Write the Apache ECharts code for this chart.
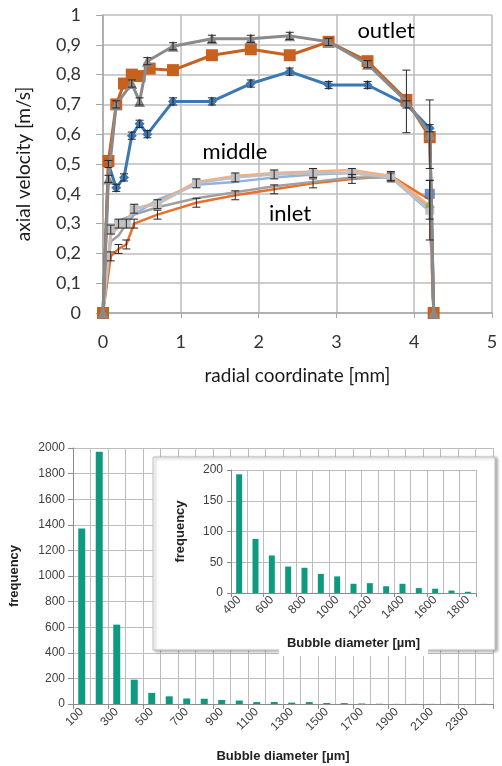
<!DOCTYPE html>
<html>
<head>
<meta charset="utf-8">
<script src="https://cdn.jsdelivr.net/npm/echarts@6/dist/echarts.min.js"></script>
<style>
html,body{margin:0;padding:0;background:#fff}
#chart{width:502px;height:766px}
</style>
</head>
<body>
<div id="chart"></div>
<script>
// ---- top chart: axial velocity profiles ----
var outletGrayX  = [0,0.07,0.17,0.37,0.47,0.57,0.9,1.4,1.9,2.4,2.9,3.4,3.9,4.2,4.25];
var outletGrayY  = [0,0.45,0.70,0.77,0.71,0.845,0.895,0.92,0.92,0.93,0.91,0.835,0.71,0.60,0];
var outletGrayE  = [0,0.012,0.012,0.012,0.012,0.012,0.012,0.012,0.012,0.012,0.012,0.012,0.105,0.115,0];

var outletOrangeX = [0,0.07,0.17,0.27,0.37,0.47,0.6,0.9,1.4,1.9,2.4,2.9,3.4,3.9,4.2,4.25];
var outletOrangeY = [0,0.51,0.70,0.77,0.80,0.795,0.82,0.815,0.865,0.885,0.865,0.91,0.845,0.715,0.59,0];

var middleX = [0,0.07,0.17,0.27,0.37,0.47,0.57,0.9,1.4,1.9,2.4,2.9,3.4,3.9,4.2,4.25];
var middleY = [0,0.50,0.42,0.455,0.595,0.635,0.60,0.71,0.71,0.77,0.81,0.765,0.765,0.70,0.62,0];
var middleE = [0,0.012,0.012,0.012,0.012,0.012,0.012,0.012,0.012,0.012,0.012,0.012,0.012,0.012,0.012,0];

var inletX = [0,0.1,0.2,0.3,0.4,0.7,1.2,1.7,2.2,2.7,3.2,3.7,4.2,4.25];
var inletDarkOrange = [0,0.19,0.215,0.23,0.30,0.33,0.37,0.395,0.415,0.435,0.45,0.46,0.38,0];
var inletGray       = [0,0.24,0.26,0.30,0.33,0.355,0.385,0.405,0.425,0.44,0.455,0.455,0.35,0];
var inletLightBlue  = [0,0.27,0.31,0.32,0.33,0.38,0.43,0.44,0.455,0.465,0.47,0.455,0.34,0];
var inletLightOrange= [0,0.26,0.29,0.31,0.35,0.37,0.44,0.46,0.47,0.475,0.48,0.46,0.36,0];
var inletLightGray  = [0,0.28,0.30,0.30,0.35,0.365,0.435,0.455,0.465,0.47,0.47,0.455,0.345,0];
var inletLightGrayE = [0,0.015,0.015,0.015,0.015,0.015,0.015,0.015,0.015,0.015,0.015,0.015,0.10,0];
var inletDarkOrangeE= [0,0.015,0.015,0.015,0.015,0.015,0.015,0.015,0.015,0.015,0.015,0.015,0.065,0];
var inletEndX = [4.2,4.2];
var inletEndY = [0.40,0.37];

// ---- bottom chart: bubble size histogram ----
var mainCats = ['100','200','300','400','500','600','700','800','900','1000','1100','1200',
                '1300','1400','1500','1600','1700','1800','1900','2000','2100','2200','2300','2400'];
var mainFreq = [1372,1970,620,190,87,60,43,41,31,27,15,16,11,15,8,7,4,2,1,1,1,1,0,1];

var insetCats = ['400','500','600','700','800','900','1000','1100','1200','1300','1400','1500','1600','1700','1800'];
var insetFreq = [193,88,61,43,41,31,27,15,16,11,15,8,7,4,2];

function pairs(xs, ys) {
	var out = [];
	for (var i = 0; i < xs.length; i++) out.push([xs[i], ys[i]]);
	return out;
}
function errs(xs, ys, es) {
	var out = [];
	for (var i = 0; i < xs.length; i++) {
		if (es[i] > 0) out.push([xs[i], ys[i] - es[i], ys[i] + es[i]]);
	}
	return out;
}
function errorBar(params, api) {
	var lo = api.coord([api.value(0), api.value(1)]);
	var hi = api.coord([api.value(0), api.value(2)]);
	var w = 4;
	var st = {stroke: '#262626', lineWidth: 1};
	return {type: 'group', children: [
		{type: 'line', shape: {x1: lo[0], y1: lo[1], x2: hi[0], y2: hi[1]}, style: st},
		{type: 'line', shape: {x1: lo[0] - w, y1: lo[1], x2: lo[0] + w, y2: lo[1]}, style: st},
		{type: 'line', shape: {x1: hi[0] - w, y1: hi[1], x2: hi[0] + w, y2: hi[1]}, style: st}
	]};
}
function plain(v) {
	return String(v);
}

var topFont = 'Lato, "Open Sans", sans-serif';
var botFont = '"Liberation Sans", Arial, sans-serif';
var gridCol = '#bdbdbd';

function lineSeries(name, xs, ys, color, width, symbol, size, z) {
	return {
		name: name, type: 'line', xAxisIndex: 0, yAxisIndex: 0,
		data: pairs(xs, ys),
		symbol: symbol, symbolSize: size, showSymbol: symbol !== 'none',
		lineStyle: {color: color, width: width},
		itemStyle: {color: color},
		z: z || 2, animation: false
	};
}

var myChart = echarts.init(document.getElementById('chart'));

option = {
	animation: false,
	backgroundColor: '#fff',
	grid: [
		{left: 103, top: 15, width: 389, height: 298},
		{left: 70, top: 448, width: 423, height: 256},
		{left: 231, top: 470, width: 245, height: 123}
	],
	xAxis: [
		{
			type: 'value', gridIndex: 0, min: 0, max: 5, interval: 1,
			name: 'radial coordinate [mm]', nameLocation: 'middle', nameGap: 53,
			nameTextStyle: {fontFamily: topFont, fontSize: 19, color: '#1a1a1a'},
			axisLine: {lineStyle: {color: '#a6a6a6', width: 1.5}},
			axisTick: {show: true, length: 5, lineStyle: {color: '#a6a6a6'}},
			axisLabel: {fontFamily: topFont, fontSize: 18, color: '#333', margin: 20},
			splitLine: {lineStyle: {color: gridCol, width: 1.5}}
		},
		{
			type: 'category', gridIndex: 1, data: mainCats,
			name: 'Bubble diameter [µm]', nameLocation: 'middle', nameGap: 46,
			nameTextStyle: {fontFamily: botFont, fontSize: 13, fontWeight: 'bold', color: '#222'},
			axisLine: {lineStyle: {color: '#8c8c8c'}},
			axisTick: {show: true, length: 5, lineStyle: {color: '#8c8c8c'}},
			axisLabel: {interval: 1, rotate: 45, fontFamily: botFont, fontSize: 12, color: '#404040', margin: 6},
			splitLine: {show: true, interval: 0, lineStyle: {color: gridCol}}
		},
		{
			type: 'category', gridIndex: 2, data: insetCats, z: 11,
			name: 'Bubble diameter [µm]', nameLocation: 'middle', nameGap: 42,
			nameTextStyle: {fontFamily: botFont, fontSize: 13, fontWeight: 'bold', color: '#222',
				backgroundColor: '#fff', padding: [2, 8, 6, 8]},
			axisLine: {lineStyle: {color: '#8c8c8c'}},
			axisTick: {show: true, length: 4, lineStyle: {color: '#8c8c8c'}},
			axisLabel: {interval: 1, rotate: 45, fontFamily: botFont, fontSize: 12, color: '#404040', margin: 5},
			splitLine: {show: true, interval: 0, lineStyle: {color: gridCol}}
		}
	],
	yAxis: [
		{
			type: 'value', gridIndex: 0, min: 0, max: 1, interval: 0.1,
			name: 'axial velocity [m/s]', nameLocation: 'middle', nameGap: 70,
			nameTextStyle: {fontFamily: topFont, fontSize: 19, color: '#1a1a1a'},
			axisLine: {show: true, lineStyle: {color: '#a6a6a6', width: 1.5}},
			axisTick: {show: true, length: 7, lineStyle: {color: '#a6a6a6'}},
			axisLabel: {fontFamily: topFont, fontSize: 18, color: '#333', margin: 22,
				formatter: function (v) {
					if (v === 0) return '0';
					if (v === 1) return '1';
					return v.toFixed(1).replace('.', ',');
				}},
			splitLine: {lineStyle: {color: gridCol, width: 1.5}}
		},
		{
			type: 'value', gridIndex: 1, min: 0, max: 2000, interval: 200,
			name: 'frequency', nameLocation: 'middle', nameGap: 52,
			nameTextStyle: {fontFamily: botFont, fontSize: 13, fontWeight: 'bold', color: '#222'},
			axisLine: {show: true, lineStyle: {color: '#8c8c8c'}},
			axisTick: {show: true, length: 5, lineStyle: {color: '#8c8c8c'}},
			axisLabel: {fontFamily: botFont, fontSize: 12, color: '#404040', margin: 8, formatter: plain},
			splitLine: {lineStyle: {color: gridCol}}
		},
		{
			type: 'value', gridIndex: 2, min: 0, max: 200, interval: 50, z: 11,
			name: 'frequency', nameLocation: 'middle', nameGap: 44,
			nameTextStyle: {fontFamily: botFont, fontSize: 13, fontWeight: 'bold', color: '#222'},
			axisLine: {show: true, lineStyle: {color: '#8c8c8c'}},
			axisTick: {show: true, length: 4, lineStyle: {color: '#8c8c8c'}},
			axisLabel: {fontFamily: botFont, fontSize: 12, color: '#404040', margin: 8, formatter: plain},
			splitLine: {lineStyle: {color: gridCol}}
		}
	],
	graphic: [
		{type: 'rect', z: 10, shape: {x: 153, y: 457, width: 342, height: 193},
			style: {fill: '#fff', stroke: '#c4c4c4', lineWidth: 1,
				shadowBlur: 3, shadowOffsetX: 2, shadowOffsetY: 1, shadowColor: 'rgba(0,0,0,0.35)'}},
		{type: 'text', z: 20, x: 386, y: 31,
			style: {text: 'outlet', font: '22px ' + topFont, fill: '#000', align: 'center', verticalAlign: 'middle'}},
		{type: 'text', z: 20, x: 235, y: 152,
			style: {text: 'middle', font: '22px ' + topFont, fill: '#000', align: 'center', verticalAlign: 'middle'}},
		{type: 'text', z: 20, x: 290, y: 214,
			style: {text: 'inlet', font: '22px ' + topFont, fill: '#000', align: 'center', verticalAlign: 'middle'}}
	],
	series: [
		lineSeries('inlet 1', inletX, inletDarkOrange, '#e8702a', 2.5, 'none', 0, 2),
		lineSeries('inlet 2', inletX, inletGray, '#a0a0a0', 2.5, 'none', 0, 2),
		lineSeries('inlet 3', inletX, inletLightBlue, '#8fb4e0', 2.5, 'none', 0, 2),
		lineSeries('inlet 4', inletX, inletLightOrange, '#f4ae82', 2.5, 'none', 0, 2),
		lineSeries('inlet 5', inletX, inletLightGray, '#c0c0c0', 2.5, 'rect', 9, 3),
		{
			name: 'inlet end', type: 'scatter', xAxisIndex: 0, yAxisIndex: 0,
			data: [
				{value: [inletEndX[0], inletEndY[0]], symbol: 'rect', symbolSize: 10, itemStyle: {color: '#4472c4'}},
				{value: [inletEndX[1], inletEndY[1]], symbol: 'triangle', symbolSize: 10, itemStyle: {color: '#70ad47'}}
			],
			z: 4, animation: false
		},
		lineSeries('middle', middleX, middleY, '#3b78b3', 3, 'diamond', 10, 4),
		lineSeries('outlet 1', outletOrangeX, outletOrangeY, '#c8611f', 3, 'rect', 12, 5),
		lineSeries('outlet 2', outletGrayX, outletGrayY, '#8a8a8a', 3, 'triangle', 11, 6),
		{
			name: 'err', type: 'custom', xAxisIndex: 0, yAxisIndex: 0, renderItem: errorBar,
			data: errs(outletGrayX, outletGrayY, outletGrayE)
				.concat(errs(middleX, middleY, middleE))
				.concat(errs(inletX, inletLightGray, inletLightGrayE))
				.concat(errs(inletX, inletDarkOrange, inletDarkOrangeE)),
			z: 7, animation: false
		},
		{
			name: 'frequency', type: 'bar', xAxisIndex: 1, yAxisIndex: 1,
			data: mainFreq, barWidth: 7, itemStyle: {color: '#0f9a80'}, animation: false
		},
		{
			name: 'frequency inset', type: 'bar', xAxisIndex: 2, yAxisIndex: 2,
			data: insetFreq, barWidth: 6, itemStyle: {color: '#0f9a80'}, z: 12, animation: false
		}
	]
};

myChart.setOption(option);
</script>
</body>
</html>
